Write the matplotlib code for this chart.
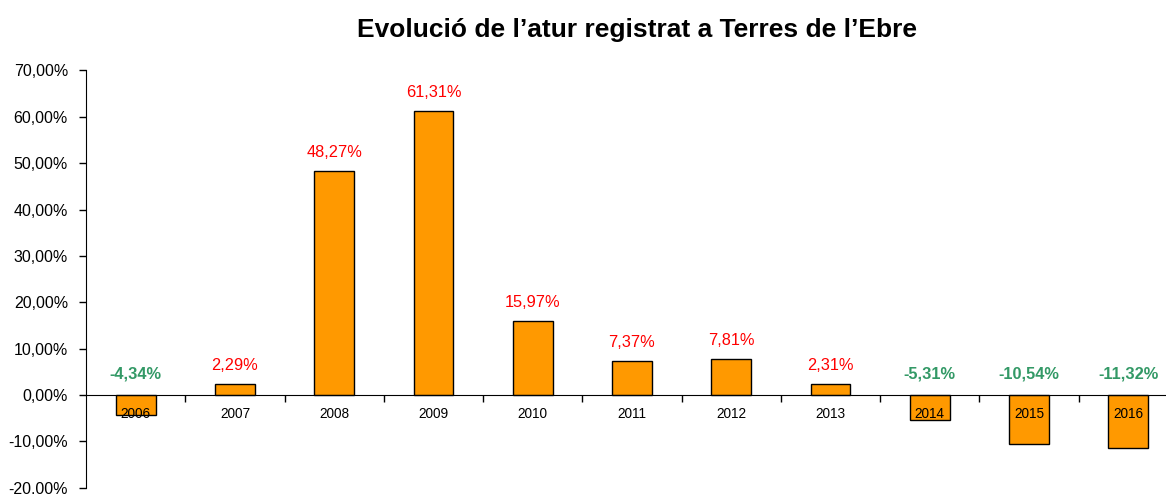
import numpy as np
from matplotlib import pyplot as plt
from matplotlib.ticker import FuncFormatter

plt.rcParams['font.family'] = ['Liberation Sans', 'DejaVu Sans']

years = ['2006', '2007', '2008', '2009', '2010', '2011',
         '2012', '2013', '2014', '2015', '2016']
changes = [-4.34, 2.29, 48.27, 61.31, 15.97, 7.37, 7.81, 2.31, -5.31, -10.54, -11.32]

fig = plt.figure(figsize=(11.66, 4.94), dpi=100)
ax = fig.add_axes([0.0738, 0.0126, 0.9262, 0.8449])

x = np.arange(len(years))
ax.bar(x, changes, width=0.4, color='#ff9900', edgecolor='black', linewidth=1, zorder=2)

ax.set_ylim(-20, 70)
ax.set_xlim(-0.5, 10.38)
ax.set_yticks(np.arange(-20, 71, 10))
ax.yaxis.set_major_formatter(FuncFormatter(lambda v, p: f'{v:.2f}%'.replace('.', ',')))
ax.tick_params(axis='y', labelsize=11.5, direction='out', length=5, width=1, pad=8)

ax.spines['top'].set_visible(False)
ax.spines['right'].set_visible(False)
ax.spines['bottom'].set_position(('data', 0))
ax.set_xticks(x[:-1] + 0.5)
ax.set_xticklabels([])
ax.tick_params(axis='x', direction='out', length=5, width=1)

for xi, yr, v in zip(x, years, changes):
    ax.text(xi, -4.1, yr, ha='center', va='center', fontsize=9.8, zorder=3)
    label = f'{v:.2f}%'.replace('.', ',')
    if v >= 0:
        ax.text(xi, v + 4.0, label, ha='center', va='center', fontsize=11.8, color='#ff0000')
    else:
        ax.text(xi, 4.5, label, ha='center', va='center', fontsize=11.8,
                color='#339966', fontweight='bold')

fig.text(0.546, 0.94, 'Evolució de l\u2019atur registrat a Terres de l\u2019Ebre',
         ha='center', va='center', fontsize=19, fontweight='bold')

fig.savefig('out.png', dpi=100)
